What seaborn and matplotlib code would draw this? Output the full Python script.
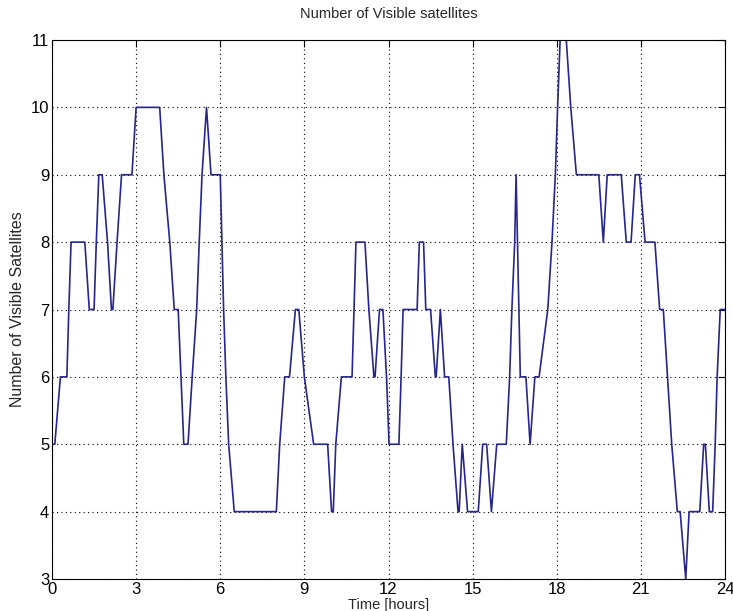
import matplotlib
matplotlib.use("Agg")
import matplotlib.pyplot as plt
import seaborn as sns
import pandas as pd

time_hours = [0.0, 0.1, 0.3, 0.53, 0.6, 0.68, 1.17, 1.33, 1.5, 1.58, 1.67, 1.79, 1.98, 2.12, 2.17, 2.32, 2.48,
              2.85, 3.0, 3.84, 3.99, 4.2, 4.36, 4.5, 4.6, 4.7, 4.85, 5.0, 5.16, 5.25, 5.35, 5.51, 5.67,
              6.0, 6.06, 6.12, 6.2, 6.3, 6.5, 8.0, 8.12, 8.3, 8.47, 8.68, 8.8, 9.0, 9.33, 9.83, 9.97, 10.03,
              10.12, 10.32, 10.7, 10.77, 10.84, 11.16, 11.3, 11.48, 11.52, 11.68, 11.8, 11.93, 12.02,
              12.37, 12.45, 12.52, 13.02, 13.1, 13.17, 13.25, 13.33, 13.5, 13.67, 13.7, 13.85, 14.0,
              14.15, 14.3, 14.48, 14.52, 14.63, 14.82, 14.86, 15.2, 15.36, 15.5, 15.67, 15.86, 16.2,
              16.32, 16.4, 16.5, 16.55, 16.6, 16.65, 16.7, 16.9, 17.05, 17.22, 17.37, 17.68, 17.83,
              17.95, 18.03, 18.12, 18.34, 18.5, 18.7, 19.5, 19.66, 19.8, 20.3, 20.48, 20.65, 20.8,
              20.95, 21.15, 21.5, 21.67, 21.8, 21.95, 22.1, 22.3, 22.4, 22.6, 22.72, 23.1, 23.24,
              23.3, 23.44, 23.56, 23.65, 23.72, 23.83, 24.0]
visible_sats = [5, 5, 6, 6, 7, 8, 8, 7, 7, 8, 9, 9, 8, 7, 7, 8, 9,
                9, 10, 10, 9, 8, 7, 7, 6, 5, 5, 6, 7, 8, 9, 10, 9,
                9, 8, 7, 6, 5, 4, 4, 5, 6, 6, 7, 7, 6, 5, 5, 4, 4,
                5, 6, 6, 7, 8, 8, 7, 6, 6, 7, 7, 6, 5,
                5, 6, 7, 7, 8, 8, 8, 7, 7, 6, 6, 7, 6,
                6, 5, 4, 4, 5, 4, 4, 4, 5, 5, 4, 5, 5,
                6, 7, 8, 9, 8, 7, 6, 6, 5, 6, 6, 7, 8,
                9, 10, 11, 11, 10, 9, 9, 8, 9, 9, 8, 8, 9,
                9, 8, 8, 7, 7, 6, 5, 4, 4, 3, 4, 4, 5,
                5, 4, 4, 5, 6, 7, 7]

x_ticks = [0, 3, 6, 9, 12, 15, 18, 21, 24]
y_ticks = [3, 4, 5, 6, 7, 8, 9, 10, 11]

df = pd.DataFrame({"t": time_hours, "n": visible_sats})

sns.set_style("white")
plt.rcParams['font.family'] = ['Liberation Sans', 'DejaVu Sans']

W, H = 733, 611
left_px, right_px, top_px, bottom_px = 52, 725, 40, 579
fig = plt.figure(figsize=(W / 100, H / 100), dpi=100)
ax = fig.add_axes([left_px / W, 1 - bottom_px / H, (right_px - left_px) / W, (bottom_px - top_px) / H])
sns.lineplot(data=df, x="t", y="n", estimator=None, sort=False, color="#26268c", linewidth=1.2, ax=ax)

ax.set_xlim(0, 24)
ax.set_ylim(3, 11)
ax.set_xticks(x_ticks)
ax.set_yticks(y_ticks)
ax.set_xticklabels([str(v) for v in x_ticks], fontsize=12)
ax.set_yticklabels([str(v) for v in y_ticks], fontsize=12)
ax.tick_params(direction="in", length=5, width=0.8, colors="black", top=True, right=True, pad=2)
ax.grid(True, linestyle=(0, (1, 3)), color="black", linewidth=0.8)
for s in ax.spines.values():
    s.set_visible(True)
    s.set_color("black")
    s.set_linewidth(0.8)
ax.set_xlabel("Time [hours]", fontsize=10.5, labelpad=1)
ax.set_ylabel("Number of Visible Satellites", fontsize=11.5, labelpad=4)
ax.set_title("Number of Visible satellites", fontsize=10.5, pad=16)

fig.savefig("out.png", dpi=100)
